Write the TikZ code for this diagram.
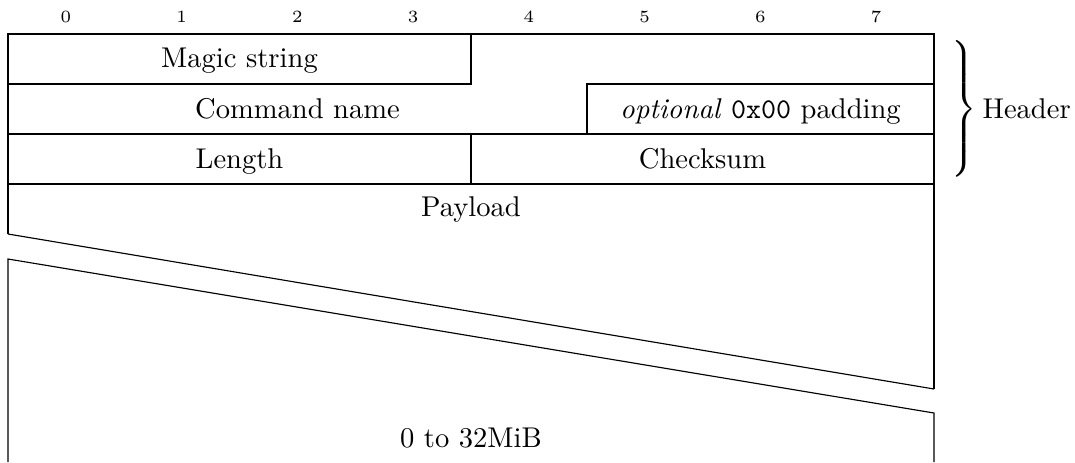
\documentclass[tikz,border=0pt]{standalone}
\begin{document}
\begin{tikzpicture}[x=0.35pt,y=-0.35pt,
    every node/.style={inner sep=0pt},
    lbl/.style={anchor=base},
    bitnum/.style={anchor=base,font=\fontsize{6}{7}\selectfont}]
\useasboundingbox (0,0) rectangle (1075,462);

% bit numbers above the columns
\foreach \i in {0,...,7}
  \node[bitnum] (bit\i) at ({8+(\i+0.5)*115.75},22) {\i};

% frame corners and column boundaries
\coordinate (tl) at (8,34);
\coordinate (tr) at (934,34);
\coordinate (skipLT) at (8,234);
\coordinate (skipRT) at (934,389);
\coordinate (skipLB) at (8,259);
\coordinate (skipRB) at (934,413);
\coordinate (endL) at (8,462);
\coordinate (endR) at (934,462);

% header outline
\draw (skipLT) -- (tl) -- (tr) -- (skipRT);
\draw (8,84) -- (471,84) -- (471,34);
\draw (587,134) -- (587,84) -- (934,84);
\draw (8,134) -- (934,134);
\draw (471,134) -- (471,184);
\draw (8,184) -- (934,184);

% skipped words in the payload
\draw (skipLT) -- (skipRT);
\draw (endL) -- (skipLB) -- (skipRB) -- (endR);

% field labels
\node[lbl] (magic)   at (239.5,67)  {Magic string};
\node[lbl] (cmd)     at (297.5,118) {Command name};
\node[lbl] (pad)     at (760.5,118) {\textit{optional} \texttt{0x00} padding};
\node[lbl] (len)     at (239.5,168) {Length};
\node[lbl] (chk)     at (702.5,168) {Checksum};
\node[lbl] (payload) at (471,216)   {Payload};
\node[lbl] (size)    at (471,447)   {0 to 32MiB};

% header brace
\node (brace) at (962,109) {$\left.\vrule height 26.5pt depth 21.5pt width 0pt\right\}$};
\node[anchor=base west] (hdr) at (982,118) {Header};
\end{tikzpicture}
\end{document}
